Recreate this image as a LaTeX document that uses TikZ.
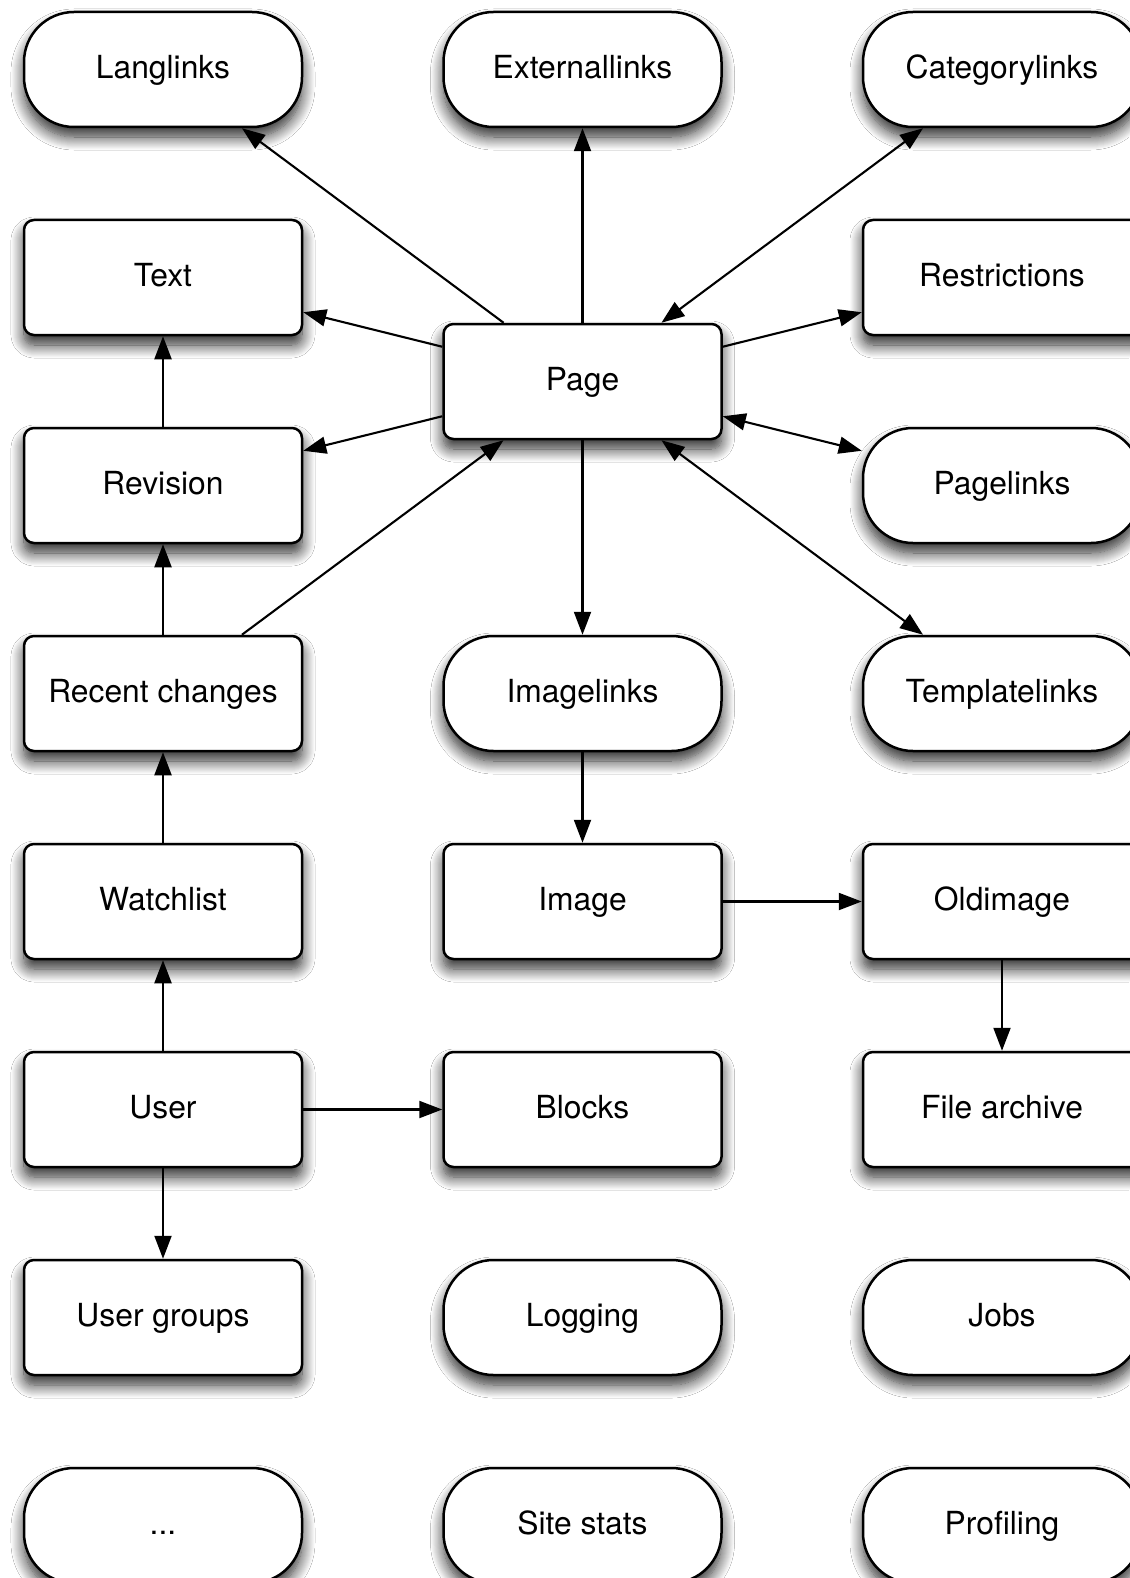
\documentclass[tikz,border=0pt]{standalone}
\usepackage{fontspec}
\setmainfont{TeX Gyre Heros}
\usetikzlibrary{arrows.meta,shadows.blur}
\tikzset{
  base/.style={draw, line width=1.25pt, fill=white, minimum width=139pt, minimum height=57.5pt,
    inner sep=0pt, text height=11.4pt, text depth=2pt,
    font=\fontsize{15.9pt}{19pt}\selectfont,
    blur shadow={shadow xshift=0pt, shadow yshift=-5pt, shadow blur radius=6.5pt, shadow opacity=85, shadow blur steps=14}},
  box/.style={base, rounded corners=5pt},
  pill/.style={base, rounded corners=25pt},
  tip/.tip={Triangle[length=11.5pt,width=8.5pt]},
  arr/.style={line width=1.05pt, -tip},
  biarr/.style={line width=1.05pt, tip-tip},
}
\begin{document}
\begin{tikzpicture}[x=0.5pt,y=-0.5pt]
\useasboundingbox (0,0) rectangle (1129,1578);
\fill[white] (0,0) rectangle (1129,1578);
% row 0
\node[pill] (lang) at (163,69.5) {Langlinks};
\node[pill] (ext) at (582.5,69.5) {Externallinks};
\node[pill] (cat) at (1002,69.5) {Categorylinks};
% row 1
\node[box] (text) at (163,277.5) {Text};
\node[box] (restr) at (1002,277.5) {Restrictions};
% page
\node[box] (page) at (582.5,381.5) {Page};
% row 2
\node[box] (rev) at (163,485.5) {Revision};
\node[pill] (plinks) at (1002,485.5) {Pagelinks};
% row 3
\node[box] (rc) at (163,693.5) {Recent changes};
\node[pill] (ilinks) at (582.5,693.5) {Imagelinks};
\node[pill] (tlinks) at (1002,693.5) {Templatelinks};
% row 4
\node[box] (watch) at (163,901.5) {Watchlist};
\node[box] (image) at (582.5,901.5) {Image};
\node[box] (old) at (1002,901.5) {Oldimage};
% row 5
\node[box] (user) at (163,1109.5) {User};
\node[box] (blocks) at (582.5,1109.5) {Blocks};
\node[box] (farch) at (1002,1109.5) {File archive};
% row 6
\node[box] (ugroups) at (163,1317.5) {User groups};
\node[pill] (logging) at (582.5,1317.5) {Logging};
\node[pill] (jobs) at (1002,1317.5) {Jobs};
% row 7
\node[pill] (dots) at (163,1525.5) {...};
\node[pill] (stats) at (582.5,1525.5) {Site stats};
\node[pill] (prof) at (1002,1525.5) {Profiling};
% connectors
\draw[arr] (page) -- (lang);
\draw[arr] (page) -- (ext);
\draw[biarr] (page) -- (cat);
\draw[arr] (page) -- (text);
\draw[arr] (page) -- (restr);
\draw[arr] (page) -- (rev);
\draw[biarr] (page) -- (plinks);
\draw[arr] (page) -- (ilinks);
\draw[biarr] (page) -- (tlinks);
\draw[arr] (rc) -- (page);
\draw[arr] (rev) -- (text);
\draw[arr] (rc) -- (rev);
\draw[arr] (watch) -- (rc);
\draw[arr] (user) -- (watch);
\draw[arr] (user) -- (blocks);
\draw[arr] (user) -- (ugroups);
\draw[arr] (ilinks) -- (image);
\draw[arr] (image) -- (old);
\draw[arr] (old) -- (farch);
\end{tikzpicture}
\end{document}
